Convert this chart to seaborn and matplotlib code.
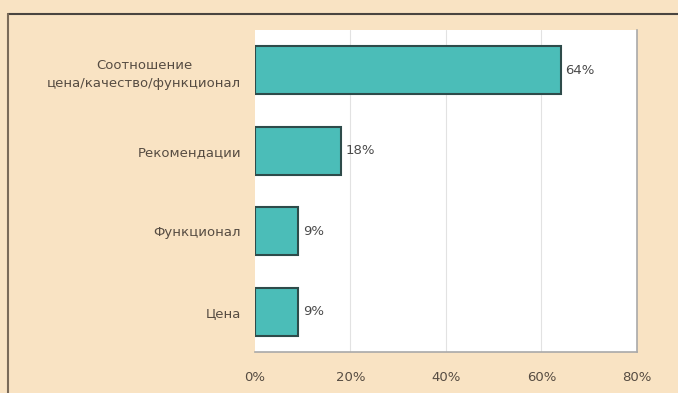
import matplotlib
matplotlib.use("Agg")
import matplotlib.pyplot as plt
import seaborn as sns
import pandas as pd
from matplotlib.lines import Line2D

categories = ["Соотношение\nцена/качество/функционал", "Рекомендации", "Функционал", "Цена"]
values = [64, 18, 9, 9]
tick_values = [0, 20, 40, 60, 80]
tick_labels = ["0%", "20%", "40%", "60%", "80%"]

bg = "#F9E3C3"
bar_color = "#4BBDB8"
edge_color = "#2E4B4A"
text_color = "#564C42"

sns.set_theme(style="white")
plt.rcParams["font.family"] = ["DejaVu Sans"]

df = pd.DataFrame({"category": categories, "value": values})

fig = plt.figure(figsize=(6.78, 3.93), dpi=100, facecolor=bg)
ax = fig.add_axes([255 / 678, 1 - 352 / 393, (637 - 255) / 678, (352 - 30) / 393])
ax.set_facecolor("white")

sns.barplot(data=df, y="category", x="value", orient="h", color=bar_color,
            edgecolor=edge_color, linewidth=1.5, width=0.6, saturation=1, ax=ax)

fs = 9.5
ax.set_xlim(0, 80)
ax.set_ylim(3.5, -0.5)
ax.set_xticks(tick_values)
ax.set_xticklabels(tick_labels, fontsize=fs, color=text_color)
ax.tick_params(axis="y", labelsize=fs, labelcolor=text_color, length=0, pad=10)
ax.tick_params(axis="x", length=0, pad=14)
ax.set_xlabel("")
ax.set_ylabel("")
for t in ax.get_yticklabels():
    t.set_multialignment("center")
    t.set_linespacing(1.5)

for x in tick_values[1:-1]:
    ax.axvline(x, color="#E2E2E2", linewidth=0.8, zorder=0)
for side in ["left", "top"]:
    ax.spines[side].set_visible(False)
for side in ["right", "bottom"]:
    ax.spines[side].set_color("#A9A9A9")
    ax.spines[side].set_linewidth(1.2)

for i, v in enumerate(values):
    ax.text(v + 1, i, f"{v}%", va="center", ha="left", fontsize=fs, color="#4A4A4A")

# outer frame around the chart block
fig.add_artist(Line2D([8 / 678, 1.0], [1 - 14 / 393, 1 - 14 / 393], color="#4A4540",
                      linewidth=1.5, transform=fig.transFigure))
fig.add_artist(Line2D([8 / 678, 8 / 678], [0.0, 1 - 14 / 393], color="#7A6A58",
                      linewidth=1.5, transform=fig.transFigure))

fig.savefig("out.png", dpi=100, facecolor=bg)
